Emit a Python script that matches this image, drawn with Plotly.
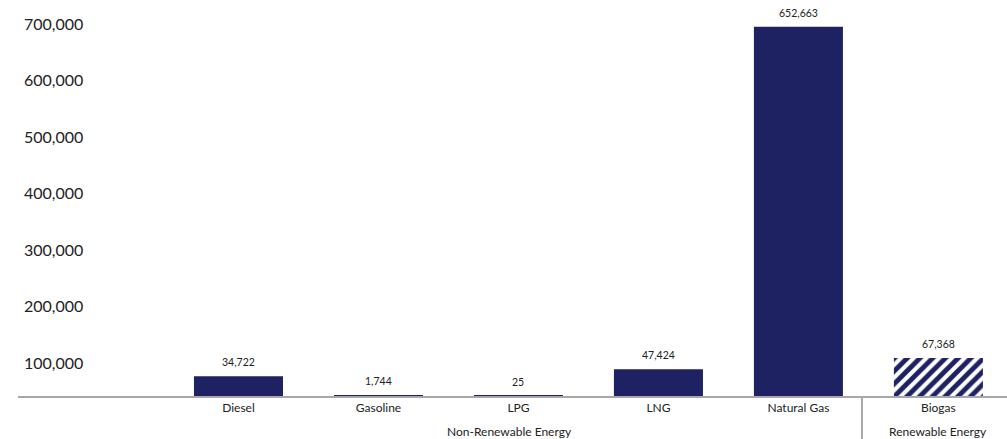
import plotly.graph_objects as go

# Fuel consumption by energy source
categories = ["Diesel", "Gasoline", "LPG", "LNG", "Natural Gas", "Biogas"]
values = [34722, 1744, 25, 47424, 652663, 67368]
groups = ["Non-Renewable Energy", "Renewable Energy"]
y_ticks = [100000, 200000, 300000, 400000, 500000, 600000, 700000]
y_tick_text = ["100,000", "200,000", "300,000", "400,000", "500,000", "600,000", "700,000"]

NAVY = "#1f2262"
GREY_LINE = "#a8a8a8"
TEXT = "#222222"
FONT = "Lato"

fig = go.Figure()

# Non-renewable sources: solid navy bars
fig.add_trace(go.Bar(
    x=categories[:5], y=values[:5], width=0.636,
    marker=dict(color=NAVY, line=dict(width=0)),
    hoverinfo="skip", showlegend=False,
))

# Renewable source: striped bar
fig.add_trace(go.Bar(
    x=categories[5:], y=values[5:], width=0.636,
    marker=dict(
        color="white", line=dict(width=0),
        pattern=dict(shape="/", fgcolor=NAVY, bgcolor="white", fgopacity=1,
                     fillmode="replace", size=9, solidity=0.55),
    ),
    hoverinfo="skip", showlegend=False,
))

annotations = []
# Value labels above each bar
for cat, val in zip(categories, values):
    annotations.append(dict(
        x=cat, y=val, xref="x", yref="y", text=f"{val:,}", showarrow=False,
        yanchor="middle", yshift=14, font=dict(family=FONT, size=10.5, color=TEXT),
    ))

# Group labels under the category labels
annotations.append(dict(
    x=1.937, y=0, xref="x", yref="paper", text=groups[0], showarrow=False,
    yanchor="middle", yshift=-35, font=dict(family=FONT, size=12, color=TEXT),
))
annotations.append(dict(
    x=5, y=0, xref="x", yref="paper", text=groups[1], showarrow=False,
    yanchor="middle", yshift=-35, font=dict(family=FONT, size=12, color=TEXT),
))

fig.update_layout(
    width=1007, height=439,
    margin=dict(l=18, r=0, t=0, b=43, pad=0),
    paper_bgcolor="white", plot_bgcolor="white",
    barmode="overlay",
    annotations=annotations,
    shapes=[dict(
        type="line", xref="x", yref="paper", x0=4.454, x1=4.454, y0=0, y1=-0.12,
        line=dict(color=GREY_LINE, width=2),
    )],
    xaxis=dict(
        type="category", categoryorder="array", categoryarray=categories,
        range=[-1.575, 5.49], showgrid=False, zeroline=False,
        showline=True, linecolor=GREY_LINE, linewidth=1.5,
        ticks="", tickfont=dict(family=FONT, size=12, color=TEXT),
    ),
    yaxis=dict(
        range=[0, 700000], tickvals=y_ticks, ticktext=y_tick_text,
        showgrid=False, zeroline=False, showline=False, ticks="",
        ticklabelposition="inside", ticklabelshift=24, ticklabelstandoff=3,
        tickfont=dict(family=FONT, size=16, color=TEXT),
    ),
)

fig.write_html("out.html")
